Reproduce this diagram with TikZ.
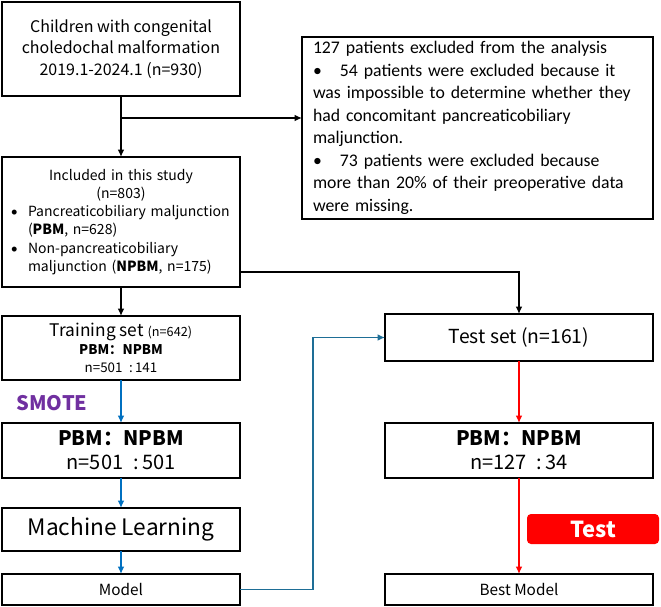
\documentclass[tikz,border=0pt]{standalone}
\usepackage{fontspec}
\setmainfont{Noto Sans CJK SC}
\newfontfamily\carl{Carlito}
\usetikzlibrary{arrows.meta,calc}
\definecolor{lblue}{HTML}{0070C0}
\definecolor{dblue}{HTML}{1E6E96}
\definecolor{smotec}{HTML}{7030A0}
\begin{document}
\begin{tikzpicture}[x=0.75pt,y=-0.75pt,
  box/.style={draw=black,line width=1.8pt,rectangle,inner sep=0pt,outer sep=0pt},
  conn/.style={line width=1.3pt,-{Latex[length=5.5pt,width=5pt]}}]
\useasboundingbox (0,0) rectangle (661,607);

\node[box,minimum width=238*0.75pt,minimum height=94*0.75pt,align=center,
  font=\fontsize{12pt}{16.1pt}\selectfont] (b1) at (121,49)
  {Children with congenital\\choledochal malformation\\2019.1-2024.1 (n=930)};

\node[box,minimum width=351*0.75pt,minimum height=182*0.75pt,align=left,text width=246.75pt,
  font=\carl\fontsize{13.3pt}{16.9pt}\selectfont] (ex) at (477.5,128)
  {127 patients excluded from the analysis\\
   \makebox[20.25pt][l]{•}54 patients were excluded because it\\
   was impossible to determine whether they\\
   had concomitant pancreaticobiliary\\
   maljunction.\\
   \makebox[20.25pt][l]{•}73 patients were excluded because\\
   more than 20\% of their preoperative data\\
   were missing.};

\node[box,minimum width=238*0.75pt,minimum height=130*0.75pt,text width=174pt,
  font=\fontsize{10.5pt}{13.6pt}\selectfont] (b2) at (121,222)
  {{\centering Included in this study\\(n=803)\par}
   \raggedright
   \noindent\makebox[17.25pt][l]{\hspace*{4.5pt}{\carl •}}Pancreaticobiliary maljunction\par
   \noindent\hspace*{17.25pt}(\textbf{PBM}, n=628)\par
   \noindent\makebox[17.25pt][l]{\hspace*{4.5pt}{\carl •}}Non-pancreaticobiliary\par
   \noindent\hspace*{17.25pt}maljunction (\textbf{NPBM}, n=175)\par};

\node[box,minimum width=238*0.75pt,minimum height=64*0.75pt,align=center,
  font=\fontsize{10pt}{13.5pt}\selectfont] (tr) at (121,348)
  {{\fontsize{13pt}{14pt}\selectfont Training set }{\fontsize{9.5pt}{11pt}\selectfont(n=642)}\\
   {\bfseries PBM：NPBM}\\
   n=501\enspace:\,141};

\node[text=smotec,font=\bfseries\fontsize{15pt}{16pt}\selectfont,inner sep=0pt] (sm) at (52,403) {SMOTE};

\node[box,minimum width=238*0.75pt,minimum height=55*0.75pt,align=center,
  font=\fontsize{15pt}{18pt}\selectfont] (p1) at (121,450.5)
  {{\bfseries PBM：NPBM}\\
   n=501\enspace:\,501};

\node[box,minimum width=238*0.75pt,minimum height=43*0.75pt,
  font=\fontsize{17pt}{19pt}\selectfont] (ml) at (121,529.5) {Machine Learning};

\node[box,minimum width=238*0.75pt,minimum height=31*0.75pt,
  font=\fontsize{11.5pt}{13pt}\selectfont] (mo) at (121,589.5) {Model};

\node[box,minimum width=268*0.75pt,minimum height=47*0.75pt,
  font=\fontsize{14.5pt}{16pt}\selectfont] (ts) at (519,337.5) {Test set (n=161)};

\node[box,minimum width=268*0.75pt,minimum height=55*0.75pt,align=center,
  font=\fontsize{15pt}{18pt}\selectfont] (p2) at (519,450.5)
  {{\bfseries PBM：NPBM}\\
   n=127\enspace:\,34};

\node[box,minimum width=268*0.75pt,minimum height=31*0.75pt,
  font=\fontsize{11.5pt}{13pt}\selectfont] (be) at (519,589.5) {Best Model};

\node[fill=red,rounded corners=3pt,text=white,inner sep=0pt,
  minimum width=132*0.75pt,minimum height=30*0.75pt,
  font=\bfseries\fontsize{16.5pt}{17pt}\selectfont] (tl) at (593,529) {Test};

% connectors
\coordinate (br) at (121,118);
\draw[conn] (b1.south) -- (b2.north);
\draw[conn] (br) -- (br -| ex.west);
\draw[conn] (b2.south) -- (tr.north);
\draw[conn] ([yshift=15*0.75pt]b2.south east) -| (ts.north);
\draw[conn,lblue] (tr.south) -- (p1.north);
\draw[conn,lblue] (p1.south) -- (ml.north);
\draw[conn,lblue] (ml.south) -- (mo.north);
\draw[conn,dblue] (mo.east) -- ++(73,0) |- (ts.west);
\draw[conn,red] (ts.south) -- (p2.north);
\draw[conn,red] (p2.south) -- (be.north);
\end{tikzpicture}
\end{document}
